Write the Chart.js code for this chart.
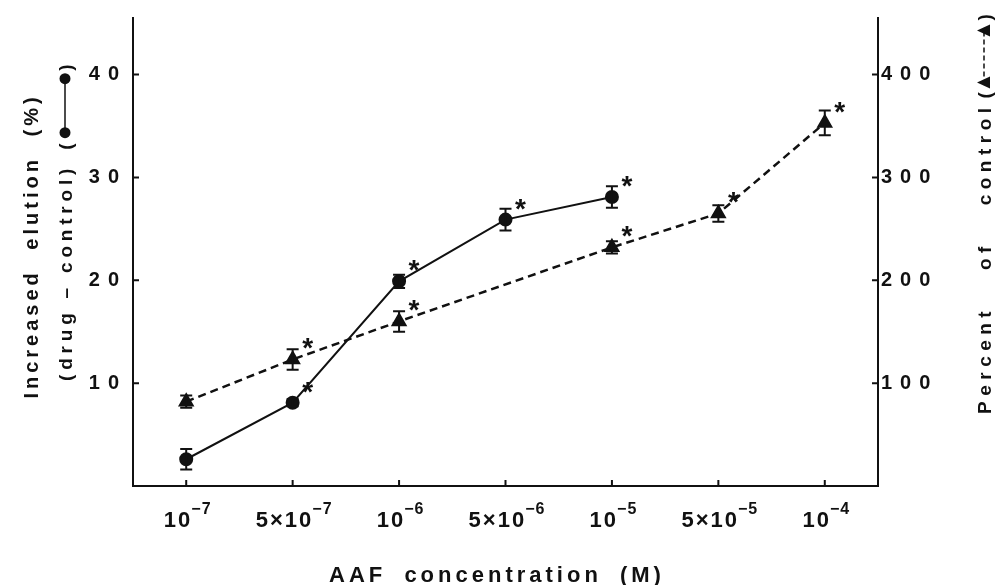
<!DOCTYPE html>
<html>
<head>
<meta charset="utf-8">
<script src="https://cdn.jsdelivr.net/npm/chart.js@4"></script>
<style>
  html, body { margin: 0; padding: 0; background: #fff; }
  #wrap { width: 1000px; height: 585px; position: relative; }
</style>
</head>
<body>
<div id="wrap"><canvas id="chart"></canvas></div>
<script>
// AAF concentration categories (evenly spaced on the x axis)
const concLabels = ['1e-7', '5e-7', '1e-6', '5e-6', '1e-5', '5e-5', '1e-4'];
const tickBase = ['10', '5\u00d710', '10', '5\u00d710', '10', '5\u00d710', '10'];
const tickExp = ['\u22127', '\u22127', '\u22126', '\u22126', '\u22125', '\u22125', '\u22124'];

// increased elution (%) (drug - control), left axis, circles
const elution = [2.6, 8.1, 19.9, 25.9, 28.1, null, null];
const elutionErr = [1.0, 0.35, 0.65, 1.05, 1.05, null, null];
const elutionStar = [false, true, true, true, true, false, false];

// percent of control, right axis, triangles
const percent = [82, 123, 160, null, 232, 265, 353];
const percentErr = [6, 10, 10, null, 6, 8, 12];
const percentStar = [false, true, true, false, true, true, true];

const leftTicks = [10, 20, 30, 40];
const rightTicks = [100, 200, 300, 400];

const FONT = '"Liberation Sans", Arial, sans-serif';
const INK = '#111';

// error bars + significance stars
const markPlugin = {
    id: 'marks',
    afterDatasetsDraw(chart) {
        const ctx = chart.ctx;
        const x = chart.scales.x;
        const sets = [
            { scale: chart.scales.y, vals: elution, err: elutionErr, star: elutionStar },
            { scale: chart.scales.y1, vals: percent, err: percentErr, star: percentStar }
        ];
        ctx.save();
        ctx.strokeStyle = INK;
        ctx.fillStyle = INK;
        ctx.lineWidth = 2;
        ctx.letterSpacing = '0px';
        sets.forEach(s => {
            s.vals.forEach((v, i) => {
                if (v === null) return;
                const px = x.getPixelForValue(i);
                const top = s.scale.getPixelForValue(v + s.err[i]);
                const bot = s.scale.getPixelForValue(v - s.err[i]);
                ctx.beginPath();
                ctx.moveTo(px, top); ctx.lineTo(px, bot);
                ctx.moveTo(px - 6, top); ctx.lineTo(px + 6, top);
                ctx.moveTo(px - 6, bot); ctx.lineTo(px + 6, bot);
                ctx.stroke();
                if (s.star[i]) {
                    const py = s.scale.getPixelForValue(v);
                    ctx.font = 'bold 28px ' + FONT;
                    ctx.textAlign = 'center';
                    ctx.textBaseline = 'alphabetic';
                    ctx.fillText('*', px + 15, py - 2);
                }
            });
        });
        ctx.restore();
    }
};

const decoPlugin = {
    id: 'deco',
    beforeDraw(chart) {
        chart.ctx.letterSpacing = '8px';
    },
    afterDraw(chart) {
        const ctx = chart.ctx;
        const xs = chart.scales.x, ys = chart.scales.y, ys1 = chart.scales.y1;
        const area = chart.chartArea;
        ctx.save();
        ctx.strokeStyle = INK;
        ctx.fillStyle = INK;
        ctx.lineWidth = 2;

        // inward tick marks
        ctx.beginPath();
        concLabels.forEach((c, i) => {
            const px = xs.getPixelForValue(i);
            ctx.moveTo(px, area.bottom); ctx.lineTo(px, area.bottom - 6);
        });
        leftTicks.forEach(v => {
            const py = ys.getPixelForValue(v);
            ctx.moveTo(area.left, py); ctx.lineTo(area.left + 6, py);
        });
        rightTicks.forEach(v => {
            const py = ys1.getPixelForValue(v);
            ctx.moveTo(area.right, py); ctx.lineTo(area.right - 6, py);
        });
        ctx.stroke();

        // x tick labels with superscript exponents
        ctx.textBaseline = 'alphabetic';
        ctx.textAlign = 'left';
        concLabels.forEach((c, i) => {
            const px = xs.getPixelForValue(i);
            ctx.letterSpacing = '2px';
            ctx.font = 'bold 22px ' + FONT;
            const wb = ctx.measureText(tickBase[i]).width;
            ctx.letterSpacing = '1px';
            ctx.font = 'bold 16px ' + FONT;
            const we = ctx.measureText(tickExp[i]).width;
            const x0 = px - (wb + we) / 2 + 2;
            ctx.letterSpacing = '2px';
            ctx.font = 'bold 22px ' + FONT;
            ctx.fillText(tickBase[i], x0, 527);
            ctx.letterSpacing = '1px';
            ctx.font = 'bold 16px ' + FONT;
            ctx.fillText(tickExp[i], x0 + wb - 1, 514);
        });

        // x title
        ctx.letterSpacing = '4px';
        ctx.wordSpacing = '8px';
        ctx.font = 'bold 22px ' + FONT;
        ctx.textAlign = 'center';
        ctx.fillText('AAF concentration (M)', 497, 582);

        // left titles (rotated, reading upward)
        ctx.save();
        ctx.translate(38, 246);
        ctx.rotate(-Math.PI / 2);
        ctx.textAlign = 'center';
        ctx.letterSpacing = '4px';
        ctx.wordSpacing = '10px';
        ctx.font = 'bold 20px ' + FONT;
        ctx.fillText('Increased elution (%)', 0, 0);
        ctx.restore();

        ctx.save();
        ctx.translate(72, 381);
        ctx.rotate(-Math.PI / 2);
        ctx.textAlign = 'left';
        ctx.letterSpacing = '4.8px';
        ctx.wordSpacing = '0px';
        ctx.font = 'bold 19px ' + FONT;
        const lt = '(drug \u2013 control)';
        ctx.fillText(lt, 0, 0);
        let cx = ctx.measureText(lt).width + 14;
        ctx.fillText('(', cx, 0);
        cx += ctx.measureText('(').width;
        // circle-line-circle key
        ctx.lineWidth = 1.5;
        ctx.beginPath();
        ctx.moveTo(cx + 6, -7); ctx.lineTo(cx + 60, -7);
        ctx.stroke();
        ctx.beginPath(); ctx.arc(cx + 6, -7, 5.5, 0, Math.PI * 2); ctx.fill();
        ctx.beginPath(); ctx.arc(cx + 60, -7, 5.5, 0, Math.PI * 2); ctx.fill();
        ctx.fillText(')', cx + 68, 0);
        ctx.restore();

        // right title
        ctx.save();
        ctx.translate(991, 414);
        ctx.rotate(-Math.PI / 2);
        ctx.textAlign = 'left';
        ctx.letterSpacing = '5.5px';
        ctx.wordSpacing = '25px';
        ctx.font = 'bold 19px ' + FONT;
        const rt = 'Percent of control';
        ctx.fillText(rt, 0, 0);
        let rx = ctx.measureText(rt).width + 4;
        ctx.fillText('(', rx, 0);
        rx += ctx.measureText('(').width;
        ctx.lineWidth = 1.5;
        ctx.setLineDash([5, 3]);
        ctx.beginPath();
        ctx.moveTo(rx + 10, -7); ctx.lineTo(rx + 56, -7);
        ctx.stroke();
        ctx.setLineDash([]);
        [rx + 4, rx + 56].forEach(tx => {
            ctx.beginPath();
            ctx.moveTo(tx, -14); ctx.lineTo(tx + 6, -1); ctx.lineTo(tx - 6, -1);
            ctx.closePath(); ctx.fill();
        });
        ctx.fillText(')', rx + 66, 0);
        ctx.restore();

        ctx.restore();
        ctx.letterSpacing = '0px';
        ctx.wordSpacing = '0px';
    }
};

const tickFont = { family: FONT, size: 20, weight: 'bold' };

new Chart(document.getElementById('chart'), {
    type: 'line',
    data: {
        labels: concLabels,
        datasets: [
            {
                label: 'elution',
                data: elution,
                yAxisID: 'y',
                borderColor: INK,
                backgroundColor: INK,
                borderWidth: 2,
                pointStyle: 'circle',
                pointRadius: 6,
                tension: 0
            },
            {
                label: 'percent',
                data: percent,
                yAxisID: 'y1',
                borderColor: INK,
                backgroundColor: INK,
                borderWidth: 2.5,
                borderDash: [8, 5],
                pointStyle: 'triangle',
                pointRadius: 7,
                spanGaps: true,
                tension: 0
            }
        ]
    },
    options: {
        responsive: true,
        maintainAspectRatio: false,
        animation: false,
        layout: { padding: { top: 13, left: 0, right: 0, bottom: 0 } },
        plugins: {
            legend: { display: false },
            tooltip: { enabled: false }
        },
        scales: {
            x: {
                type: 'category',
                offset: true,
                grid: { display: false, drawTicks: false },
                border: { display: true, color: INK, width: 2 },
                ticks: { display: false },
                afterFit: s => { s.height = 99; }
            },
            y: {
                position: 'left',
                min: 0,
                max: 45.5,
                grid: { display: false, drawTicks: false },
                border: { display: true, color: INK, width: 2 },
                ticks: {
                    stepSize: 10,
                    includeBounds: false,
                    color: INK,
                    font: tickFont,
                    padding: 6,
                    callback: v => (v === 0 ? '' : v)
                },
                afterFit: s => { s.width = 133; }
            },
            y1: {
                position: 'right',
                min: 0,
                max: 455,
                grid: { display: false, drawTicks: false },
                border: { display: true, color: INK, width: 2 },
                ticks: {
                    stepSize: 100,
                    includeBounds: false,
                    color: INK,
                    font: tickFont,
                    padding: 3,
                    callback: v => (v === 0 ? '' : v)
                },
                afterFit: s => { s.width = 122; }
            }
        }
    },
    plugins: [markPlugin, decoPlugin]
});
</script>
</body>
</html>
